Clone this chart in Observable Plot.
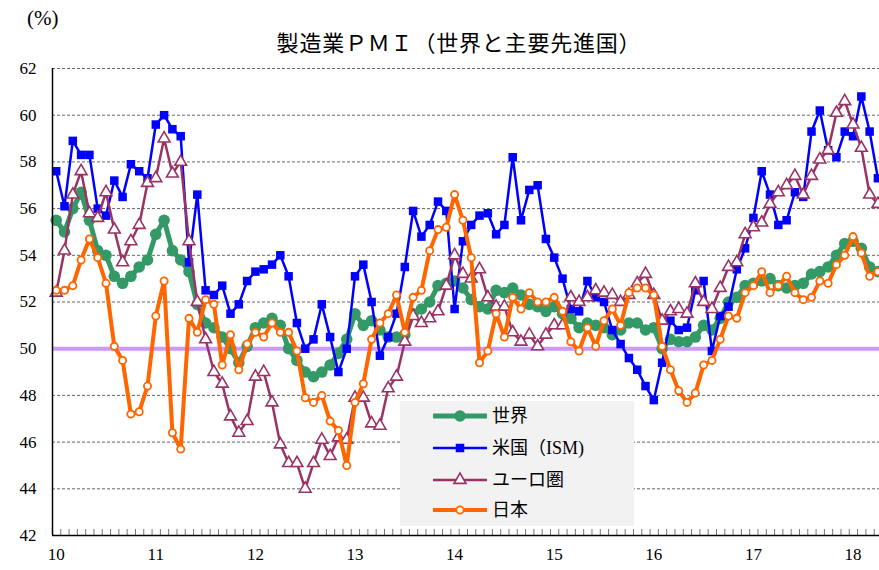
<!DOCTYPE html>
<html>
<head>
<meta charset="utf-8">
<script src="https://cdn.jsdelivr.net/npm/d3@7"></script>
<script src="https://cdn.jsdelivr.net/npm/@observablehq/plot@0.6"></script>
<style>
  body { margin: 0; background: #fff; }
  #wrap { position: relative; width: 879px; height: 570px; overflow: hidden;
          font-family: "Liberation Serif", "DejaVu Serif", "Noto Sans CJK JP", serif; color: #000; }
  #unit { position: absolute; left: 27px; top: 6px; font-size: 21px; }
  #title { position: absolute; left: 0; width: 918px; top: 25px; text-align: center; font-size: 22px; letter-spacing: 0.8px; }
  #chart { position: absolute; left: 0; top: 0; }
  #legend { position: absolute; left: 400px; top: 401px; }
</style>
</head>
<body>
<div id="wrap">
  <div id="chart"></div>
  <div id="unit">(%)</div>
  <div id="title">製造業ＰＭＩ（世界と主要先進国）</div>
  <div id="legend"></div>
</div>
<script>
const years = ["10","11","12","13","14","15","16","17","18"];
const yTicks = [42,44,46,48,50,52,54,56,58,60,62];
const seriesNames = ["世界","米国（ISM)","ユーロ圏","日本"];

const world = [55.5,55.0,56.0,56.7,55.5,54.2,54.0,53.1,52.8,53.1,53.5,53.8,
 54.9,55.5,54.2,53.8,53.3,51.9,51.1,50.9,50.5,50.0,49.4,50.1,
 50.9,51.1,51.3,51.0,50.0,49.5,49.0,48.8,49.0,49.3,49.8,50.4,
 51.5,51.0,51.2,50.8,50.5,50.5,50.6,51.5,51.7,52.0,52.7,52.8,
 52.9,52.6,52.1,51.8,51.7,52.5,52.4,52.6,52.3,51.9,51.8,51.6,
 51.8,51.5,51.3,50.9,51.1,51.0,50.9,50.6,50.8,51.1,51.1,50.8,
 50.9,50.0,50.4,50.3,50.3,50.5,51.0,50.8,51.3,52.0,52.2,52.7,
 52.8,52.9,53.0,52.7,52.6,52.7,52.8,53.2,53.3,53.5,54.0,54.5,
 54.6,54.3,53.5,53.3];

const ism = [57.6,56.1,58.9,58.3,58.3,56.0,55.7,57.2,56.5,57.9,57.6,57.3,
 59.6,60.0,59.4,59.1,53.7,56.6,52.5,52.3,52.7,51.5,51.9,52.9,
 53.3,53.4,53.6,54.0,53.1,51.1,50.0,50.4,51.9,50.5,49.0,50.0,
 53.1,53.6,52.0,49.7,50.5,51.5,53.5,55.9,54.8,55.3,56.3,55.9,
 51.7,54.6,55.3,55.7,55.8,54.9,55.3,58.2,55.5,56.8,57.0,54.7,
 53.9,53.0,51.7,51.6,52.9,52.2,52.0,50.8,50.2,49.6,49.1,48.4,
 47.8,49.4,51.2,50.8,50.9,52.5,52.9,49.9,51.4,51.8,53.4,54.3,
 55.6,57.6,56.6,55.3,55.5,56.7,56.5,59.3,60.2,58.5,58.2,59.3,
 59.1,60.8,59.3,57.3];

const euro = [52.4,54.2,56.6,57.6,55.8,55.6,56.7,55.1,53.7,54.6,55.3,57.1,
 57.3,59.0,57.5,58.0,54.6,52.0,50.4,49.0,48.5,47.1,46.4,46.9,
 48.8,49.0,47.7,45.9,45.1,45.1,44.0,45.1,46.1,45.4,46.2,46.1,
 47.9,47.9,46.8,46.7,48.3,48.8,50.3,51.4,51.1,51.3,51.6,52.7,
 54.0,53.2,53.0,53.4,52.2,51.8,51.8,50.7,50.3,50.6,50.1,50.6,
 51.0,51.0,52.2,52.0,52.2,52.5,52.4,52.3,52.0,52.3,52.8,53.2,
 52.3,51.2,51.6,51.7,51.5,52.8,52.0,51.7,52.6,53.5,53.7,54.9,
 55.2,55.4,56.2,56.7,57.0,57.4,56.6,57.4,58.1,58.5,60.1,60.6,
 59.6,58.6,56.6,56.2];

const japan = [52.5,52.5,52.7,53.8,54.7,53.9,52.8,50.1,49.5,47.2,47.3,48.4,
 51.4,52.9,46.4,45.7,51.3,50.7,52.1,51.9,49.3,50.6,49.1,50.2,
 50.7,50.5,51.1,50.7,50.7,49.9,47.9,47.7,48.0,46.9,46.5,45.0,
 47.7,48.5,50.4,51.1,51.5,52.3,50.7,52.2,52.5,54.2,55.1,55.2,
 56.6,55.5,53.9,49.4,49.9,51.5,50.5,52.2,51.7,52.4,52.0,52.0,
 52.2,51.6,50.3,49.9,50.9,50.1,51.2,51.7,51.0,52.4,52.6,52.6,
 52.3,50.1,49.1,48.2,47.7,48.1,49.3,49.5,50.4,51.4,51.3,52.4,
 52.7,53.3,52.4,52.7,53.1,52.4,52.1,52.2,52.9,52.8,53.6,54.0,
 54.8,54.1,53.1,53.3];

const toRows = arr => arr.map((v, i) => ({i, v}));
const W = toRows(world), U = toRows(ism), E = toRows(euro), J = toRows(japan);
const monthTicks = d3.range(ism.length).map(i => i - 0.45);

const chart = Plot.plot({
  width: 879, height: 570,
  marginLeft: 52, marginRight: 0, marginTop: 68, marginBottom: 35,
  x: {domain: [-0.446, 99.19]},
  y: {domain: [42, 62]},
  style: {fontFamily: '"Liberation Serif", "DejaVu Serif", serif', fontSize: "17px", color: "#000", background: "transparent"},
  marks: [
    Plot.ruleY(yTicks.slice(1), {stroke: "#666", strokeDasharray: "3,2", strokeWidth: 1}),
    Plot.ruleY([50], {stroke: "#cc99ff", strokeWidth: 4}),
    Plot.line(W, {x: "i", y: "v", stroke: "#339966", strokeWidth: 5}),
    Plot.dot(W, {x: "i", y: "v", r: 5.8, fill: "#339966"}),
    Plot.line(U, {x: "i", y: "v", stroke: "#0000ff", strokeWidth: 2.5}),
    Plot.dot(U, {x: "i", y: "v", symbol: "square", r: 4.8, fill: "#0000ff"}),
    Plot.line(E, {x: "i", y: "v", stroke: "#993366", strokeWidth: 2.5}),
    Plot.dot(E, {x: "i", y: "v", symbol: "triangle", r: 4.4, fill: "#fff", stroke: "#993366", strokeWidth: 1.6}),
    Plot.line(J, {x: "i", y: "v", stroke: "#ff6600", strokeWidth: 4}),
    Plot.dot(J, {x: "i", y: "v", r: 3.6, fill: "#fff", stroke: "#ff6600", strokeWidth: 1.8}),
    Plot.ruleX(monthTicks, {x: d => d, y1: 42, y2: 42.26, stroke: "#777", strokeWidth: 1}),
    Plot.ruleY([42], {stroke: "#000", strokeWidth: 1.5}),
    Plot.ruleX([-0.446], {stroke: "#000", strokeWidth: 1.5}),
    Plot.axisX({ticks: years.map((_, k) => k * 12), tickFormat: d => years[d / 12], tickSize: 0, tickPadding: 12, fontSize: 17, label: null}),
    Plot.axisY({ticks: yTicks, tickSize: 0, tickPadding: 16, fontSize: 17, label: null})
  ]
});
document.getElementById("chart").appendChild(chart);

// legend
const leg = d3.select("#legend").append("svg").attr("width", 234).attr("height", 125)
  .style("font-family", '"Liberation Serif", "DejaVu Serif", "Noto Sans CJK JP", serif');
leg.append("rect").attr("width", 234).attr("height", 125).attr("fill", "#f2f2f2");
const styles = [
  {stroke: "#339966", w: 5, sym: "circle", fill: "#339966", s: null, r: 5.8},
  {stroke: "#0000ff", w: 2.5, sym: "square", fill: "#0000ff", s: null, r: 4.8},
  {stroke: "#993366", w: 2.5, sym: "triangle", fill: "#fff", s: "#993366", r: 4.4},
  {stroke: "#ff6600", w: 4, sym: "circle", fill: "#fff", s: "#ff6600", r: 3.6}
];
const rowY = [15, 47, 79, 109];
seriesNames.forEach((name, k) => {
  const st = styles[k], g = leg.append("g").attr("transform", `translate(0,${rowY[k]})`);
  g.append("line").attr("x1", 33).attr("x2", 87).attr("stroke", st.stroke).attr("stroke-width", st.w);
  const type = st.sym === "square" ? d3.symbolSquare : st.sym === "triangle" ? d3.symbolTriangle : d3.symbolCircle;
  g.append("path").attr("transform", "translate(60,0)")
    .attr("d", d3.symbol(type, Math.PI * st.r * st.r)())
    .attr("fill", st.fill).attr("stroke", st.s || "none").attr("stroke-width", st.s ? 1.7 : 0);
  g.append("text").attr("x", 92).attr("dy", "0.35em").attr("font-size", 18).text(name);
});
</script>
</body>
</html>
